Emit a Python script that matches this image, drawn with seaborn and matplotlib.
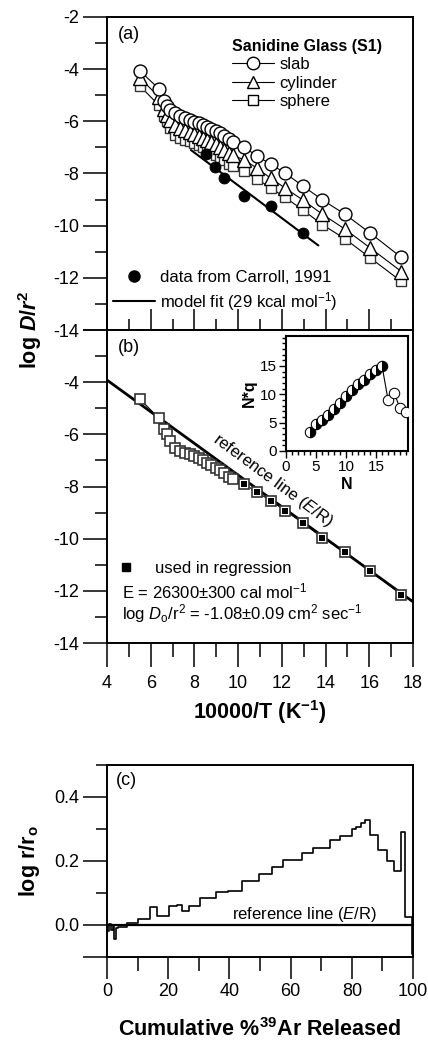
import numpy as np
import pandas as pd
import matplotlib
matplotlib.use("Agg")
import matplotlib.pyplot as plt
import seaborn as sns
from matplotlib.lines import Line2D
from matplotlib.ticker import MultipleLocator

sns.set_style("ticks", rc={"axes.edgecolor": "black", "xtick.color": "black",
                           "ytick.color": "black", "text.color": "black",
                           "axes.labelcolor": "black"})
plt.rcParams["font.family"] = ["Liberation Sans", "DejaVu Sans"]
plt.rcParams.update({
    "mathtext.fontset": "custom",
    "mathtext.rm": "Liberation Sans",
    "mathtext.it": "Liberation Sans:italic",
    "mathtext.bf": "Liberation Sans:bold",
    "mathtext.bfit": "Liberation Sans:italic:bold",
    "axes.linewidth": 1.3,
})

# ---- (a) Arrhenius data, three diffusion geometries ----
inv_T = [5.51, 6.37, 6.62, 6.75, 6.90, 7.12, 7.34, 7.56, 7.78, 7.99, 8.19, 8.39,
         8.58, 8.78, 8.97, 9.17, 9.37, 9.57, 9.77, 10.29, 10.86, 11.49, 12.15,
         12.95, 13.85, 14.88, 16.05, 17.47]
slab = [-4.07, -4.75, -5.22, -5.40, -5.56, -5.69, -5.79, -5.88, -5.95, -6.02,
        -6.08, -6.15, -6.21, -6.29, -6.37, -6.46, -6.56, -6.67, -6.78, -7.00,
        -7.33, -7.64, -7.99, -8.47, -9.01, -9.56, -10.29, -11.22]
cylinder = [-4.34, -5.06, -5.54, -5.74, -5.95, -6.15, -6.27, -6.34, -6.41, -6.48,
            -6.55, -6.63, -6.70, -6.79, -6.88, -6.98, -7.09, -7.20, -7.31, -7.48,
            -7.80, -8.18, -8.56, -9.01, -9.56, -10.13, -10.86, -11.76]
sphere = [-4.65, -5.38, -5.80, -6.00, -6.26, -6.52, -6.64, -6.71, -6.77, -6.84,
          -6.92, -7.00, -7.09, -7.19, -7.28, -7.38, -7.50, -7.62, -7.73, -7.92,
          -8.21, -8.55, -8.92, -9.39, -9.96, -10.50, -11.24, -12.14]
n_regression = 9  # last steps used in regression

carroll_x = [8.53, 8.94, 9.35, 10.27, 11.49, 12.95]
carroll_y = [-7.26, -7.76, -8.18, -8.88, -9.23, -10.29]
fit_x = [7.84, 13.67]
fit_y = [-7.10, -10.76]

# ---- (b) reference line ----
ref_x = [4.0, 18.0]
ref_y = [-3.92, -12.42]

# ---- inset N*q vs N ----
inset_N = [4, 5, 6, 7, 8, 9, 10, 11, 12, 13, 14, 15, 16]
inset_Nq = [3.3, 4.7, 5.5, 6.3, 7.4, 8.5, 9.7, 10.8, 11.8, 12.6, 13.5, 14.3, 15.0]
inset_N_open = [17, 18, 19, 20]
inset_Nq_open = [9.0, 10.3, 7.5, 6.8]

# ---- (c) log r/ro spectrum ----
cum_edges = [0, 0.6, 1.2, 1.8, 2.4, 3.0, 3.7, 6.4, 10.2, 14.05, 16.4, 20.4, 22.8,
             24.4, 26.8, 30.4, 35.5, 39.7, 44.0, 49.8, 53.8, 57.6, 63.6, 67.4,
             72.9, 76.1, 80.0, 81.4, 83.0, 84.3, 85.9, 88.7, 91.4, 93.8, 96.0,
             97.4, 99.6, 100]
log_r = [-0.018, 0.003, -0.015, -0.002, -0.045, -0.010, -0.006, 0.006, 0.018,
         0.057, 0.029, 0.060, 0.063, 0.045, 0.060, 0.083, 0.104, 0.107, 0.138,
         0.158, 0.180, 0.203, 0.224, 0.242, 0.266, 0.278, 0.300, 0.307, 0.320,
         0.328, 0.282, 0.235, 0.200, 0.169, 0.290, 0.024, -0.090]

df = pd.DataFrame({"x": inv_T, "slab": slab, "cylinder": cylinder, "sphere": sphere})
reg = df.iloc[-n_regression:]

fig = plt.figure(figsize=(4.28, 10.42), dpi=100)
ax_a = fig.add_axes([0.25, 0.6833, 0.715, 0.3004])
ax_b = fig.add_axes([0.25, 0.3829, 0.715, 0.3004])
ax_c = fig.add_axes([0.25, 0.0816, 0.715, 0.1843])
ax_in = fig.add_axes([0.668, 0.5672, 0.285, 0.1104])

TICK = 13

# ---------------- panel (a) ----------------
line_kw = dict(color="black", lw=0.8, estimator=None, sort=False, ax=ax_a)
sns.lineplot(data=df, x="x", y="sphere", marker="s", ms=7.8, mfc="white",
             mec="#333333", mew=1.0, zorder=3, **line_kw)
sns.lineplot(data=df, x="x", y="cylinder", marker="^", ms=9.5, mfc="white",
             mec="black", mew=1.0, zorder=4, **line_kw)
sns.lineplot(data=df, x="x", y="slab", marker="o", ms=9.3, mfc="white",
             mec="black", mew=1.0, zorder=5, **line_kw)
sns.lineplot(x=fit_x, y=fit_y, color="black", lw=1.5, ax=ax_a, zorder=2)
sns.scatterplot(x=carroll_x, y=carroll_y, color="black", s=62, ax=ax_a,
                zorder=6, edgecolor="black")

h_geo = [Line2D([], [], color="black", lw=0.8, marker=m, ms=s, mfc="white",
                mec="black", label=l)
         for m, s, l in [("o", 9, "slab"), ("^", 9, "cylinder"), ("s", 7.5, "sphere")]]
leg1 = ax_a.legend(handles=h_geo, title="Sanidine Glass (S1)", loc="upper left",
                   bbox_to_anchor=(0.41, 0.93), frameon=False, fontsize=12,
                   title_fontproperties={"weight": "bold", "size": 11.5},
                   alignment="left", borderpad=0, borderaxespad=0,
                   handlelength=2.5, handletextpad=0.3, labelspacing=0.2)
ax_a.add_artist(leg1)
h_src = [Line2D([], [], ls="none", marker="o", ms=8, color="black",
                label="data from Carroll, 1991"),
         Line2D([], [], color="black", lw=1.5,
                label=r"model fit (29 kcal mol$^{-1}$)")]
ax_a.legend(handles=h_src, loc="lower left", bbox_to_anchor=(0.02, 0.055),
            frameon=False, fontsize=12, borderpad=0, borderaxespad=0,
            handlelength=2.5, handletextpad=0.3, labelspacing=0.3)

ax_a.set_xlim(4, 18)
ax_a.set_ylim(-14, -2)
ax_a.set_xlabel("")
ax_a.set_ylabel("")
ax_a.text(0.035, 0.945, "(a)", transform=ax_a.transAxes, fontsize=13,
          ha="left", va="center")

# ---------------- panel (b) ----------------
sns.lineplot(x=ref_x, y=ref_y, color="black", lw=2.0, ax=ax_b, zorder=2)
sns.lineplot(data=df, x="x", y="sphere", marker="s", ms=7.8, mfc="white",
             mec="#333333", mew=1.2, color="black", lw=0.8, estimator=None,
             sort=False, ax=ax_b, zorder=3)
sns.scatterplot(data=reg, x="x", y="sphere", marker="s", color="black", s=22,
                ax=ax_b, zorder=4, linewidth=0)
ax_b.text(11.6, -7.78, r"reference line ($\mathit{E}$/R)", rotation=-36.5,
          rotation_mode="anchor", ha="center", va="center", fontsize=12)
h_reg = [Line2D([], [], ls="none", marker="s", ms=5.5, color="black",
                label="used in regression")]
ax_b.legend(handles=h_reg, loc="lower left", bbox_to_anchor=(0.02, 0.215),
            frameon=False, fontsize=12, borderpad=0, borderaxespad=0,
            handlelength=1.6, handletextpad=0.9)
ax_b.text(0.048, 0.164, r"E = 26300$\pm$300 cal mol$^{-1}$",
          transform=ax_b.transAxes, fontsize=12, ha="left", va="center")
ax_b.text(0.048, 0.095,
          r"log $\mathit{D}_{\mathrm{o}}$/r$^2$ = -1.08$\pm$0.09 cm$^2$ sec$^{-1}$",
          transform=ax_b.transAxes, fontsize=12, ha="left", va="center")
ax_b.text(0.035, 0.945, "(b)", transform=ax_b.transAxes, fontsize=13,
          ha="left", va="center")
ax_b.set_xlim(4, 18)
ax_b.set_ylim(-14, -2)
ax_b.set_xlabel("")
ax_b.set_ylabel("")

# inset
sns.lineplot(x=inset_N + inset_N_open, y=inset_Nq + inset_Nq_open, color="black",
             lw=0.8, estimator=None, sort=False, ax=ax_in, zorder=2)
sns.lineplot(x=inset_N_open, y=inset_Nq_open, marker="o", ms=7.5, mfc="white",
             mec="black", ls="none", estimator=None, ax=ax_in, zorder=3)
sns.lineplot(x=inset_N, y=inset_Nq, marker="o", ms=7.5, fillstyle="right",
             mfc="black", mfcalt="white", mec="black", ls="none",
             estimator=None, ax=ax_in, zorder=4)
ax_in.set_xlim(0, 20.3)
ax_in.set_ylim(0, 20.3)
ax_in.set_xticks([0, 5, 10, 15])
ax_in.set_yticks([0, 5, 10, 15])
ax_in.xaxis.set_minor_locator(MultipleLocator(1))
ax_in.yaxis.set_minor_locator(MultipleLocator(1))
ax_in.tick_params(which="both", direction="out", labelsize=11, width=1.0, pad=1.5)
ax_in.tick_params(which="major", length=5)
ax_in.tick_params(which="minor", length=3)
ax_in.set_xlabel("N", fontsize=11.5, fontweight="bold", labelpad=2)
ax_in.set_ylabel("N*q", fontsize=11.5, fontweight="bold", labelpad=2)
for s in ax_in.spines.values():
    s.set_linewidth(1.5)

# ---------------- panel (c) ----------------
df_c = pd.DataFrame({"x": cum_edges, "y": log_r + [log_r[-1]]})
ax_c.axhline(0, color="black", lw=1.6, zorder=2)
sns.lineplot(data=df_c, x="x", y="y", drawstyle="steps-post", color="black",
             lw=1.2, estimator=None, sort=False, ax=ax_c, zorder=3)
ax_c.text(64.5, 0.034, r"reference line ($\mathit{E}$/R)", fontsize=12,
          ha="center", va="center")
ax_c.text(0.03, 0.92, "(c)", transform=ax_c.transAxes, fontsize=13,
          ha="left", va="center")
ax_c.set_xlim(0, 100)
ax_c.set_ylim(-0.1, 0.5)
ax_c.set_xlabel("")
ax_c.set_ylabel("")

# ---------------- ticks ----------------
for ax in (ax_a, ax_b):
    ax.xaxis.set_major_locator(MultipleLocator(2))
    ax.xaxis.set_minor_locator(MultipleLocator(1))
    ax.yaxis.set_major_locator(MultipleLocator(2))
    ax.yaxis.set_minor_locator(MultipleLocator(1))
    ax.tick_params(axis="y", which="both", direction="out", labelsize=TICK,
                   width=1.1, pad=3)
    ax.tick_params(axis="y", which="major", length=17)
    ax.tick_params(axis="y", which="minor", length=9)

ax_a.tick_params(axis="x", which="both", direction="in", labelbottom=False,
                 width=1.1)
ax_a.tick_params(axis="x", which="major", length=15)
ax_a.tick_params(axis="x", which="minor", length=8)
ax_b.tick_params(axis="x", which="both", direction="out", labelsize=TICK,
                 width=1.1, pad=6)
ax_b.tick_params(axis="x", which="major", length=17)
ax_b.tick_params(axis="x", which="minor", length=10)
ax_b.set_yticks([-14, -12, -10, -8, -6, -4, -2])
ax_b.set_yticklabels(["-14", "-12", "-10", "-8", "-6", "-4", ""])
ax_a.set_yticks([-14, -12, -10, -8, -6, -4, -2])
ax_a.set_yticklabels(["-14", "-12", "-10", "-8", "-6", "-4", "-2"])
ax_b.set_xticks(range(4, 19, 2))
ax_b.set_xticklabels([str(v) for v in range(4, 19, 2)])

ax_c.xaxis.set_major_locator(MultipleLocator(20))
ax_c.xaxis.set_minor_locator(MultipleLocator(10))
ax_c.yaxis.set_minor_locator(MultipleLocator(0.1))
ax_c.set_yticks([-0.1, 0.0, 0.2, 0.4])
ax_c.set_yticklabels(["", "0.0", "0.2", "0.4"])
ax_c.tick_params(which="both", direction="out", labelsize=TICK, width=1.1)
ax_c.tick_params(axis="x", which="major", length=16, pad=3)
ax_c.tick_params(axis="x", which="minor", length=10)
ax_c.tick_params(axis="y", which="major", length=17, pad=3)
ax_c.tick_params(axis="y", which="minor", length=8)

for ax in (ax_a, ax_b, ax_c):
    for s in ax.spines.values():
        s.set_visible(True)
        s.set_linewidth(1.4)

# ---------------- axis titles ----------------
fig.text(30 / 428, 1 - 330 / 1042,
         r"log $\mathbfit{D}$/$\mathbfit{r}^{\mathbf{2}}$",
         rotation=90, ha="center", va="center", fontsize=15.5, fontweight="bold")
fig.text(260 / 428, 1 - 712 / 1042, r"10000/T (K$^{\mathbf{-1}}$)",
         ha="center", va="center", fontsize=15.5, fontweight="bold")
fig.text(30 / 428, 1 - 861 / 1042, r"log r/r$_{\mathbf{o}}$",
         rotation=90, ha="center", va="center", fontsize=15.5, fontweight="bold")
fig.text(260 / 428, 1 - 1030 / 1042, r"Cumulative %$^{\mathbf{39}}$Ar Released",
         ha="center", va="center", fontsize=15.5, fontweight="bold")

fig.savefig("out.png", dpi=100)
